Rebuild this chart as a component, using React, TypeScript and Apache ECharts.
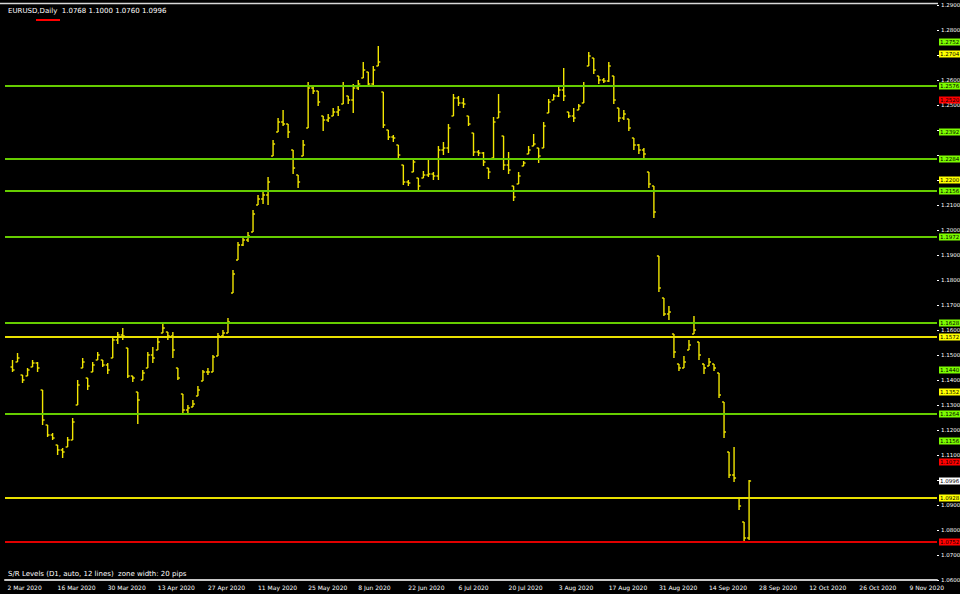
import React, { useEffect, useRef } from "react";
import * as echarts from "echarts";

const titleText = "EURUSD,Daily  1.0768 1.1000 1.0760 1.0996";
const footerText = "S/R Levels (D1, auto, 12 lines)  zone width: 20 pips";

const firstOpen = 1.1452;
const highs = [
  1.1480, 1.1508, 1.1420, 1.1448, 1.1480, 1.1472, 1.1360, 1.1220, 1.1188, 1.1140,
  1.1128, 1.1172, 1.1248, 1.1400, 1.1488, 1.1408, 1.1472, 1.1512, 1.1480, 1.1468,
  1.1572, 1.1592, 1.1608, 1.1528, 1.1416, 1.1352, 1.1440, 1.1512, 1.1532, 1.1568,
  1.1628, 1.1592, 1.1592, 1.1448, 1.1344, 1.1300, 1.1320, 1.1376, 1.1440, 1.1448,
  1.1500, 1.1588, 1.1600, 1.1648, 1.1840, 1.1952, 1.1968, 1.1992, 1.2080, 1.2140,
  1.2160, 1.2212, 1.2360, 1.2448, 1.2480, 1.2424, 1.2320, 1.2220, 1.2360, 1.2592,
  1.2576, 1.2556, 1.2456, 1.2464, 1.2488, 1.2496, 1.2592, 1.2536, 1.2584, 1.2600,
  1.2672, 1.2632, 1.2656, 1.2736, 1.2552, 1.2400, 1.2380, 1.2340, 1.2260, 1.2200,
  1.2288, 1.2208, 1.2236, 1.2280, 1.2232, 1.2336, 1.2352, 1.2424, 1.2544, 1.2536,
  1.2528, 1.2456, 1.2388, 1.2320, 1.2312, 1.2248, 1.2452, 1.2544, 1.2376, 1.2312,
  1.2176, 1.2232, 1.2276, 1.2336, 1.2384, 1.2328, 1.2432, 1.2524, 1.2544, 1.2576,
  1.2648, 1.2472, 1.2488, 1.2504, 1.2592, 1.2712, 1.2688, 1.2616, 1.2608, 1.2672,
  1.2616, 1.2488, 1.2480, 1.2444, 1.2368, 1.2344, 1.2328, 1.2232, 1.2176, 1.1896,
  1.1728, 1.1696, 1.1584, 1.1464, 1.1496, 1.1560, 1.1656, 1.1552, 1.1464, 1.1488,
  1.1464, 1.1428, 1.1312, 1.1112, 1.1132, 1.0928, 1.0832, 1.1000,
];
const lows = [
  1.1432, 1.1472, 1.1388, 1.1416, 1.1452, 1.1432, 1.1220, 1.1172, 1.1160, 1.1100,
  1.1088, 1.1132, 1.1160, 1.1300, 1.1448, 1.1360, 1.1432, 1.1480, 1.1452, 1.1424,
  1.1488, 1.1544, 1.1560, 1.1408, 1.1392, 1.1224, 1.1400, 1.1448, 1.1468, 1.1520,
  1.1588, 1.1560, 1.1488, 1.1400, 1.1264, 1.1268, 1.1292, 1.1336, 1.1396, 1.1420,
  1.1432, 1.1496, 1.1568, 1.1588, 1.1748, 1.1880, 1.1936, 1.1952, 1.1992, 1.2100,
  1.2104, 1.2100, 1.2296, 1.2392, 1.2416, 1.2368, 1.2224, 1.2168, 1.2296, 1.2408,
  1.2544, 1.2496, 1.2396, 1.2432, 1.2456, 1.2456, 1.2504, 1.2504, 1.2468, 1.2560,
  1.2608, 1.2576, 1.2580, 1.2656, 1.2408, 1.2360, 1.2352, 1.2288, 1.2180, 1.2176,
  1.2232, 1.2160, 1.2208, 1.2212, 1.2200, 1.2200, 1.2300, 1.2308, 1.2456, 1.2496,
  1.2488, 1.2416, 1.2296, 1.2296, 1.2256, 1.2204, 1.2288, 1.2448, 1.2240, 1.2224,
  1.2116, 1.2184, 1.2256, 1.2304, 1.2336, 1.2268, 1.2328, 1.2468, 1.2520, 1.2532,
  1.2516, 1.2448, 1.2432, 1.2480, 1.2508, 1.2656, 1.2624, 1.2584, 1.2588, 1.2592,
  1.2504, 1.2432, 1.2440, 1.2396, 1.2320, 1.2304, 1.2288, 1.2168, 1.2048, 1.1752,
  1.1656, 1.1640, 1.1488, 1.1436, 1.1448, 1.1520, 1.1584, 1.1480, 1.1424, 1.1456,
  1.1436, 1.1328, 1.1168, 1.1008, 1.0992, 1.0880, 1.0748, 1.0760,
];
const closes = [
  1.1440, 1.1488, 1.1400, 1.1440, 1.1468, 1.1448, 1.1240, 1.1180, 1.1168, 1.1120,
  1.1112, 1.1160, 1.1232, 1.1380, 1.1472, 1.1376, 1.1460, 1.1500, 1.1460, 1.1440,
  1.1560, 1.1580, 1.1576, 1.1416, 1.1408, 1.1320, 1.1428, 1.1500, 1.1488, 1.1552,
  1.1608, 1.1576, 1.1520, 1.1408, 1.1280, 1.1288, 1.1304, 1.1360, 1.1432, 1.1432,
  1.1492, 1.1576, 1.1588, 1.1632, 1.1824, 1.1940, 1.1960, 1.1976, 1.2064, 1.2124,
  1.2140, 1.2192, 1.2344, 1.2432, 1.2424, 1.2392, 1.2248, 1.2192, 1.2340, 1.2568,
  1.2556, 1.2512, 1.2440, 1.2448, 1.2472, 1.2480, 1.2576, 1.2520, 1.2568, 1.2584,
  1.2640, 1.2584, 1.2640, 1.2672, 1.2420, 1.2372, 1.2368, 1.2300, 1.2192, 1.2188,
  1.2272, 1.2176, 1.2220, 1.2224, 1.2216, 1.2320, 1.2328, 1.2408, 1.2528, 1.2508,
  1.2504, 1.2424, 1.2312, 1.2308, 1.2272, 1.2232, 1.2432, 1.2472, 1.2260, 1.2240,
  1.2132, 1.2216, 1.2268, 1.2320, 1.2344, 1.2296, 1.2416, 1.2512, 1.2536, 1.2560,
  1.2536, 1.2456, 1.2448, 1.2496, 1.2576, 1.2696, 1.2640, 1.2600, 1.2596, 1.2656,
  1.2520, 1.2448, 1.2464, 1.2408, 1.2340, 1.2320, 1.2304, 1.2184, 1.2072, 1.1768,
  1.1664, 1.1672, 1.1512, 1.1448, 1.1472, 1.1540, 1.1600, 1.1500, 1.1448, 1.1472,
  1.1448, 1.1340, 1.1192, 1.1020, 1.1008, 1.0896, 1.0768, 1.0996,
];

const lineLevels = [1.2576, 1.2284, 1.2156, 1.1972, 1.1628, 1.1572, 1.1264, 1.0928, 1.0752];
const lineKinds = ["g", "g", "g", "g", "g", "y", "g", "y", "r"];
const tagLevels = [1.2752, 1.2704, 1.2520, 1.2392, 1.2200, 1.1440, 1.1352, 1.1156, 1.1072, 1.0996];
const tagKinds = ["g", "y", "r", "g", "y", "g", "y", "g", "r", "w"];

const yMin = 1.06;
const yMax = 1.29;
const yStep = 0.01;
const futureBars = 37;
const startYear = 2020;
const startMonth = 2; // March (0-based)
const startDay = 2;

const lineColor: Record<string, string> = { g: "#66cc00", y: "#e8e000", r: "#e00000", w: "#ffffff" };
const tagColor: Record<string, string> = { g: "#7cfc00", y: "#ffff00", r: "#ff0000", w: "#ffffff" };
const barColor = "#f2e600";
const MONTHS = ["Jan", "Feb", "Mar", "Apr", "May", "Jun", "Jul", "Aug", "Sep", "Oct", "Nov", "Dec"];

function buildCategories(count: number): string[] {
  const out: string[] = [];
  const d = new Date(Date.UTC(startYear, startMonth, startDay));
  while (out.length < count) {
    const wd = d.getUTCDay();
    if (wd !== 0 && wd !== 6) {
      out.push(`${d.getUTCDate()} ${MONTHS[d.getUTCMonth()]} ${d.getUTCFullYear()}`);
    }
    d.setUTCDate(d.getUTCDate() + 1);
  }
  return out;
}

export default function App() {
  const ref = useRef<HTMLDivElement>(null);
  useEffect(() => {
    if (!ref.current) return;
    const chart = echarts.init(ref.current, undefined, { renderer: "svg" });
    const total = 1 + closes.length + futureBars;
    const categories = buildCategories(total);
    const bars = closes.map((c, i) => {
      const prev = i === 0 ? firstOpen : closes[i - 1];
      const o = Math.min(highs[i], Math.max(lows[i], prev));
      return [i + 1, o, c, lows[i], highs[i]];
    });
    const allTags = [...lineLevels, ...tagLevels];
    // a tick label that sits right under a price tag is hidden behind it (as in the terminal)
    const coveredTick = (v: number) => allTags.some((t) => Math.abs(t - v) < 0.0017);

    const mkLabel = (v: number, kind: string) => ({
      show: true,
      position: "end",
      distance: 2,
      formatter: v.toFixed(4),
      backgroundColor: tagColor[kind],
      color: "#000",
      fontSize: 5.5,
      lineHeight: 6,
      fontFamily: "DejaVu Sans",
      padding: [1, 1, 0, 1],
    });

    const markData: any[] = [
      ...lineLevels.map((v, i) => ({
        yAxis: v,
        lineStyle: { color: lineColor[lineKinds[i]], width: 2, type: "solid", opacity: 1 },
        label: mkLabel(v, lineKinds[i]),
      })),
      ...tagLevels.map((v, i) => ({
        yAxis: v,
        lineStyle: { color: "rgba(0,0,0,0)", width: 0, type: "solid" },
        label: mkLabel(v, tagKinds[i]),
      })),
    ];

    chart.setOption({
      animation: false,
      backgroundColor: "#000",
      grid: {
        left: 5,
        right: 23,
        top: 5,
        bottom: 14,
        containLabel: false,
        outerBoundsMode: "none",
      },
      xAxis: {
        type: "category",
        data: categories,
        boundaryGap: true,
        axisLine: { show: true, lineStyle: { color: "#c8c8c8", width: 2 } },
        axisTick: { show: false },
        axisLabel: {
          color: "#ffffff",
          fontSize: 6,
          fontFamily: "DejaVu Sans",
          interval: 9,
          margin: 4,
          align: "left",
          hideOverlap: false,
        },
        splitLine: { show: false },
      },
      yAxis: {
        type: "value",
        position: "right",
        min: yMin,
        max: yMax,
        interval: yStep,
        axisLine: { show: false },
        axisTick: { show: true, length: 2, lineStyle: { color: "#ffffff" } },
        axisLabel: {
          color: "#ffffff",
          fontSize: 5.5,
          fontFamily: "DejaVu Sans",
          margin: 4,
          formatter: (v: number) => (coveredTick(v) ? "" : v.toFixed(4)),
        },
        splitLine: { show: false },
      },
      series: [
        {
          type: "line",
          data: [],
          z: 1,
          silent: true,
          markLine: {
            silent: true,
            symbol: ["none", "none"],
            animation: false,
            precision: 4,
            data: markData,
          },
        },
        {
          type: "custom",
          z: 3,
          silent: true,
          data: bars,
          encode: { x: 0, y: [1, 2, 3, 4] },
          renderItem: (params: any, api: any) => {
            const x = api.value(0);
            const pH = api.coord([x, api.value(4)]);
            const pL = api.coord([x, api.value(3)]);
            const pO = api.coord([x, api.value(1)]);
            const pC = api.coord([x, api.value(2)]);
            const style = { stroke: barColor, lineWidth: 1.4 };
            return {
              type: "group",
              children: [
                { type: "line", shape: { x1: pH[0], y1: pH[1], x2: pL[0], y2: pL[1] }, style },
                { type: "line", shape: { x1: pO[0] - 2, y1: pO[1], x2: pO[0], y2: pO[1] }, style },
                { type: "line", shape: { x1: pC[0], y1: pC[1], x2: pC[0] + 2, y2: pC[1] }, style },
              ],
            };
          },
        },
      ],
      graphic: [
        {
          type: "line",
          shape: { x1: 0, y1: 3.5, x2: 938, y2: 3.5 },
          style: { stroke: "#d8d8d8", lineWidth: 1.5 },
          silent: true,
        },
        {
          type: "text",
          left: 8,
          top: 7,
          style: { text: titleText, fill: "#ffffff", fontSize: 7, fontFamily: "DejaVu Sans" },
          silent: true,
        },
        {
          type: "line",
          shape: { x1: 36, y1: 20, x2: 60, y2: 20 },
          style: { stroke: "#ff0000", lineWidth: 2 },
          silent: true,
        },
        {
          type: "text",
          left: 8,
          top: 570,
          style: { text: footerText, fill: "#ffffff", fontSize: 7, fontFamily: "DejaVu Sans" },
          silent: true,
        },
      ],
    });
    return () => chart.dispose();
  }, []);
  return (
    <div
      ref={ref}
      style={{ position: "fixed", left: 0, top: 0, width: 960, height: 594, background: "#000" }}
    />
  );
}
